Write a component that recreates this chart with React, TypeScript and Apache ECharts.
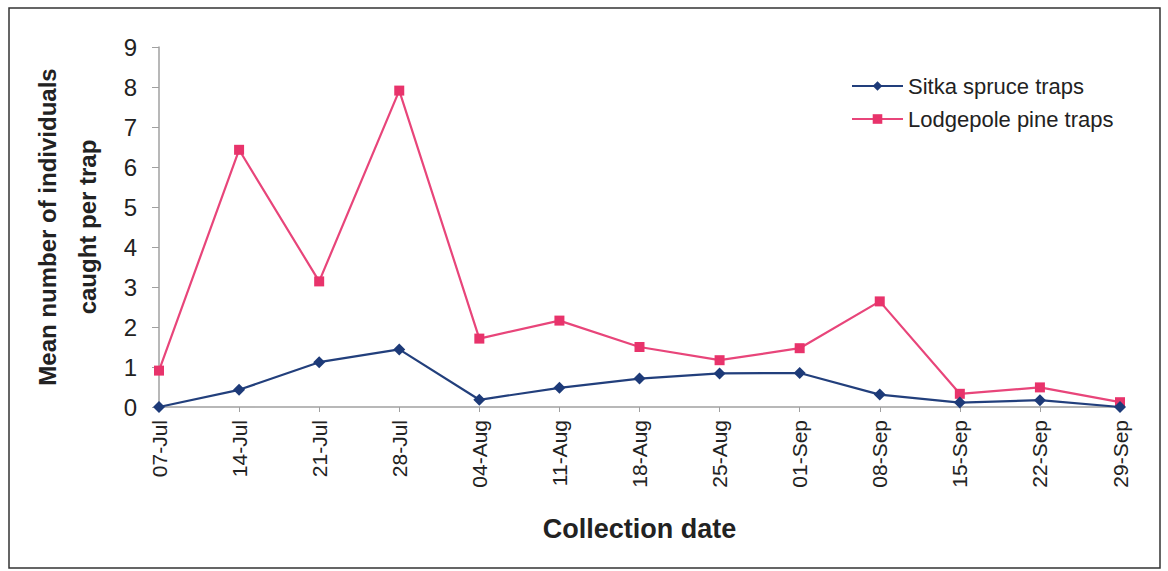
import React, { useEffect, useRef } from "react";
import * as echarts from "echarts";

const categories = ["07-Jul", "14-Jul", "21-Jul", "28-Jul", "04-Aug", "11-Aug", "18-Aug", "25-Aug", "01-Sep", "08-Sep", "15-Sep", "22-Sep", "29-Sep"];
const sitkaSpruce = [0.0, 0.43, 1.12, 1.44, 0.18, 0.48, 0.71, 0.84, 0.85, 0.31, 0.11, 0.17, 0.0];
const lodgepolePine = [0.91, 6.43, 3.14, 7.91, 1.71, 2.16, 1.5, 1.17, 1.47, 2.64, 0.33, 0.49, 0.12];
const yTicks = [0, 1, 2, 3, 4, 5, 6, 7, 8, 9];

const FONT = "'Liberation Sans', Arial, sans-serif";

export default function App() {
  const ref = useRef<HTMLDivElement>(null);
  useEffect(() => {
    if (!ref.current) return;
    const chart = echarts.init(ref.current, null, { renderer: "svg" });
    chart.setOption({
      animation: false,
      backgroundColor: "#ffffff",
      textStyle: { fontFamily: FONT },
      graphic: [
        {
          type: "rect",
          shape: { x: 9, y: 8, width: 1151, height: 560 },
          style: { fill: "none", stroke: "#333333", lineWidth: 1.5 },
          silent: true,
        },
      ],
      legend: {
        orient: "vertical",
        left: 846,
        top: 70,
        itemWidth: 51,
        itemHeight: 12,
        itemGap: 11,
        textStyle: { fontSize: 22, color: "#222", fontFamily: FONT },
        data: ["Sitka spruce traps", "Lodgepole pine traps"],
      },
      grid: { left: 159, top: 47, right: 48, bottom: 164, containLabel: false },
      xAxis: {
        type: "category",
        data: categories,
        boundaryGap: false,
        name: "Collection date",
        nameLocation: "middle",
        nameGap: 108,
        nameTextStyle: { fontSize: 27, fontWeight: "bold", color: "#222", fontFamily: FONT },
        axisLine: { lineStyle: { color: "#a0a0a0", width: 1.5 } },
        axisTick: { show: true, length: 5, alignWithLabel: true, lineStyle: { color: "#a0a0a0" } },
        axisLabel: { rotate: 90, fontSize: 21, color: "#222", margin: 13, fontFamily: FONT },
        splitLine: { show: false },
      },
      yAxis: {
        type: "value",
        min: 0,
        max: 9,
        interval: 1,
        name: "Mean number of individuals\ncaught per trap",
        nameLocation: "middle",
        nameGap: 52,
        nameRotate: 90,
        nameTextStyle: { fontSize: 24, fontWeight: "bold", color: "#222", lineHeight: 40, fontFamily: FONT },
        axisLine: { show: true, lineStyle: { color: "#a0a0a0", width: 1.5 } },
        axisTick: { show: true, length: 7, lineStyle: { color: "#a0a0a0" } },
        axisLabel: {
          fontSize: 24,
          color: "#222",
          margin: 22,
          fontFamily: FONT,
          formatter: (v: number) => (yTicks.includes(v) ? String(v) : ""),
        },
        splitLine: { show: false },
      },
      series: [
        {
          name: "Sitka spruce traps",
          type: "line",
          data: sitkaSpruce,
          symbol: "diamond",
          symbolSize: 12,
          clip: false,
          lineStyle: { color: "#223f7c", width: 2.2 },
          itemStyle: { color: "#1d3a78" },
          z: 3,
        },
        {
          name: "Lodgepole pine traps",
          type: "line",
          data: lodgepolePine,
          symbol: "rect",
          symbolSize: 10,
          clip: false,
          lineStyle: { color: "#e8457a", width: 2.2 },
          itemStyle: { color: "#e8336b" },
          z: 2,
        },
      ],
    });
    return () => chart.dispose();
  }, []);
  return (
    <div
      ref={ref}
      style={{ position: "absolute", left: 0, top: 0, width: 1168, height: 571 }}
    />
  );
}
